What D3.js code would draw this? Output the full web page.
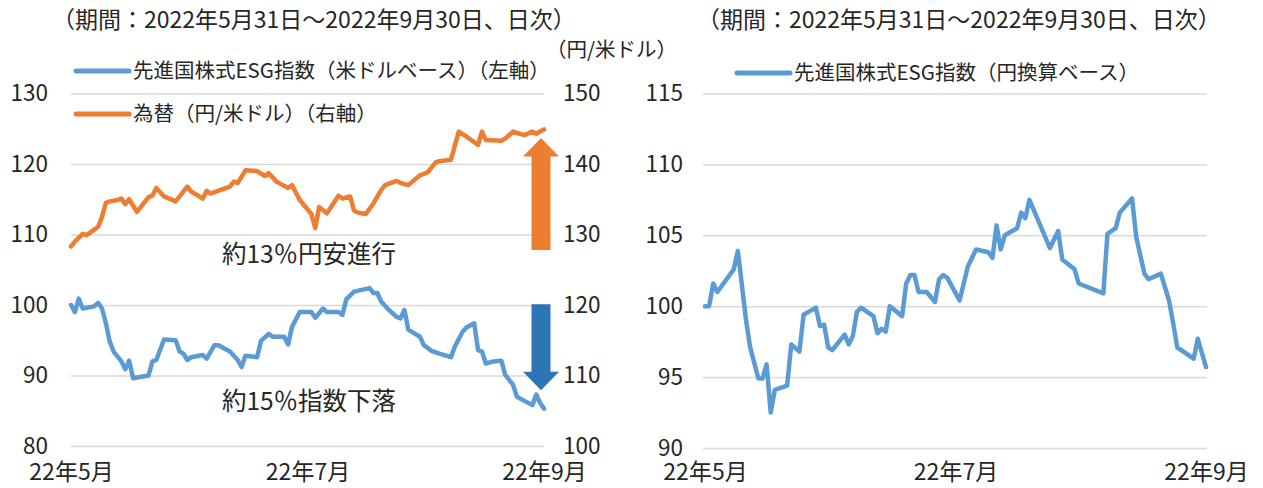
<!DOCTYPE html>
<html lang="ja">
<head>
<meta charset="utf-8">
<title>先進国株式ESG指数と為替</title>
<script src="https://cdn.jsdelivr.net/npm/d3@7"></script>
<style>
  body { margin: 0; background: #fff; }
  svg text { font-family: "Noto Sans CJK JP", "Noto Sans", sans-serif; fill: #262626; }
</style>
</head>
<body>
<script>
// days = calendar days after 2022-05-31 (vertices)
const usdDays = [0,1,2,3,6,7,8,9,10,11,13,14,15,16,20,21,22,24,27,28,29,30,31,34,35,37,38,41,43,44,45,48,49,51,52,55,56,57,59,62,63,65,66,69,70,71,73,77,78,79,80,82,84,85,86,87,90,91,93,95,98,99,101,102,104,105,106,107,109,111,112,114,115,119,120,121,122];
const usdIndex = [100.0,99.0,100.9,99.5,99.8,100.3,99.5,97.4,94.8,93.4,92.0,90.9,92.1,89.6,90.0,92.0,92.2,95.1,95.0,93.4,93.1,92.2,92.6,92.9,92.4,94.3,94.3,93.4,92.2,91.2,92.8,92.6,94.9,95.9,95.5,95.5,94.4,96.9,99.0,99.0,98.2,99.5,99.0,99.0,98.6,100.8,101.9,102.4,101.7,101.7,100.5,99.3,98.3,98.1,99.3,96.5,95.5,94.3,93.5,93.1,92.6,94.1,96.2,96.8,97.4,93.6,93.4,91.7,92.0,92.1,90.1,88.7,87.0,85.8,87.3,86.1,85.3];

const fxDays = [0,1,3,4,6,7,8,9,10,12,13,14,15,17,20,21,22,24,27,30,31,34,35,36,39,41,42,43,45,48,50,51,53,56,57,59,62,63,64,66,69,70,72,73,74,76,78,80,81,84,85,87,90,92,94,95,98,100,102,105,106,107,111,112,114,115,117,119,120,121,122];
const fxRate = [128.3,129.0,130.1,129.9,130.7,131.1,132.5,134.5,134.7,134.9,135.1,134.3,135.0,133.2,135.3,135.5,136.6,135.4,134.7,136.8,136.1,135.1,136.2,135.8,136.4,136.8,137.5,137.3,139.1,139.0,138.3,138.7,137.5,136.6,137.0,134.9,132.9,130.9,133.9,133.0,135.5,135.1,135.4,133.4,133.1,132.9,134.4,136.3,137.0,137.6,137.3,137.0,138.4,138.8,140.2,140.4,140.6,144.6,143.9,142.7,144.6,143.4,143.3,143.6,144.6,144.4,144.1,144.6,144.3,144.6,144.9];

const jpyDays = [0,1,2,3,7,8,10,11,13,14,15,16,17,20,21,23,24,27,28,29,30,31,34,35,36,37,38,41,42,43,44,45,48,49,50,51,52,54,56,57,58,59,62,63,64,66,69,70,71,72,73,76,77,78,79,84,86,87,90,91,97,98,100,101,104,105,107,108,111,113,114,115,119,120,122];
const jpyIndex = [100.0,100.0,101.6,101.0,102.6,103.9,99.0,97.1,94.9,94.9,95.9,92.5,94.1,94.4,97.3,96.8,99.4,99.9,98.6,98.7,97.1,96.9,98.0,97.3,97.9,99.6,99.9,99.3,98.1,98.4,98.2,100.0,99.3,101.6,102.2,102.2,101.0,101.0,100.3,101.9,102.2,102.0,100.4,101.6,102.8,104.0,103.8,103.4,105.7,104.0,105.0,105.5,106.6,106.2,107.5,104.1,105.3,103.3,102.6,101.6,100.9,105.1,105.5,106.6,107.6,104.9,102.3,101.9,102.3,100.4,98.8,97.1,96.3,97.7,95.7];

const xTickDays = [0, 61, 122];
const xTickLabels = ["22年5月", "22年7月", "22年9月"];
const usdTicks = [80, 90, 100, 110, 120, 130];
const fxTicks = [100, 110, 120, 130, 140, 150];
const jpyTicks = [90, 95, 100, 105, 110, 115];

const periodLabel = "（期間：2022年5月31日～2022年9月30日、日次）";
const usdName = "先進国株式ESG指数（米ドルベース）（左軸）";
const fxName = "為替（円/米ドル）（右軸）";
const jpyName = "先進国株式ESG指数（円換算ベース）";

const blue = "#5B9BD5", orange = "#ED7D31", darkBlue = "#2E75B6", grid = "#D9D9D9";

let w = 1263, h = 488;
let svg = d3.select("body").append("svg")
    .attr("width", w)
    .attr("height", h);

// ---- left panel
let xL = d3.scaleLinear().domain([0, 122]).range([71, 544]);
let yL = d3.scaleLinear().domain([80, 130]).range([446, 93.5]);
let yR = d3.scaleLinear().domain([100, 150]).range([446, 93.5]);

// ---- right panel
let xJ = d3.scaleLinear().domain([0, 122]).range([705, 1206]);
let yJ = d3.scaleLinear().domain([90, 115]).range([448, 93.5]);

function styleAxis(g, size) {
    g.select(".domain").remove();
    g.selectAll(".tick line").attr("stroke", grid).attr("stroke-width", 1.5);
    g.selectAll(".tick text").attr("font-size", size).attr("fill", "#262626");
}

svg.append("g")
    .attr("transform", "translate(71,0)")
    .call(d3.axisLeft(yL).tickValues(usdTicks).tickSize(-(544 - 71)).tickPadding(23))
    .call(g => styleAxis(g, 22.5));

svg.append("g")
    .attr("transform", "translate(544,0)")
    .call(d3.axisRight(yR).tickValues(fxTicks).tickSize(0).tickPadding(19))
    .call(g => styleAxis(g, 22.5));

svg.append("g")
    .attr("transform", "translate(0,446)")
    .call(d3.axisBottom(xL).tickValues(xTickDays).tickSize(0).tickPadding(18)
        .tickFormat((d, i) => xTickLabels[i]))
    .call(g => styleAxis(g, 23));

svg.append("g")
    .attr("transform", "translate(703,0)")
    .call(d3.axisLeft(yJ).tickValues(jpyTicks).tickSize(-(1207 - 703)).tickPadding(20))
    .call(g => styleAxis(g, 22.5));

svg.append("g")
    .attr("transform", "translate(0,448)")
    .call(d3.axisBottom(xJ).tickValues(xTickDays).tickSize(0).tickPadding(16)
        .tickFormat((d, i) => xTickLabels[i]))
    .call(g => styleAxis(g, 23));

// lines
function drawLine(days, vals, xs, ys, color) {
    let line = d3.line()
        .x((d, i) => xs(days[i]))
        .y(d => ys(d));
    svg.append("path")
        .datum(vals)
        .attr("d", line)
        .attr("fill", "none")
        .attr("stroke", color)
        .attr("stroke-width", 4.5)
        .attr("stroke-linejoin", "round")
        .attr("stroke-linecap", "round");
}
drawLine(fxDays, fxRate, xL, yR, orange);
drawLine(usdDays, usdIndex, xL, yL, blue);
drawLine(jpyDays, jpyIndex, xJ, yJ, blue);

// arrows (annotation shapes)
function arrow(cx, yFrom, yTo, color) {
    let dir = yTo < yFrom ? -1 : 1;
    let headLen = 18.5, shaft = 9.5, head = 18;
    let yBase = yTo - dir * headLen;
    let pts = [
        [cx - shaft, yFrom], [cx - shaft, yBase], [cx - head, yBase], [cx, yTo],
        [cx + head, yBase], [cx + shaft, yBase], [cx + shaft, yFrom]
    ];
    svg.append("polygon")
        .attr("points", pts.map(p => p.join(",")).join(" "))
        .attr("fill", color);
}
arrow(xL(122) - 3, yR(127.8), yR(143.7), orange);
arrow(xL(122) - 3, yL(100.1), yL(87.9), darkBlue);

// annotations
svg.append("text").attr("x", 309).attr("y", 254).attr("dy", "0.35em")
    .attr("text-anchor", "middle").attr("font-size", 24.5).text("約13％円安進行");
svg.append("text").attr("x", 309).attr("y", 401).attr("dy", "0.35em")
    .attr("text-anchor", "middle").attr("font-size", 24.5).text("約15％指数下落");

// titles
svg.append("text").attr("x", 52).attr("y", 20).attr("dy", "0.35em")
    .attr("font-size", 23).text(periodLabel);
svg.append("text").attr("x", 697).attr("y", 20).attr("dy", "0.35em")
    .attr("font-size", 23).text(periodLabel);
svg.append("text").attr("x", 546).attr("y", 50).attr("dy", "0.35em")
    .attr("font-size", 20.5).text("（円/米ドル）");

// legends
function legend(x, y, color, label) {
    svg.append("line")
        .attr("x1", x).attr("x2", x + 53).attr("y1", y).attr("y2", y)
        .attr("stroke", color).attr("stroke-width", 5).attr("stroke-linecap", "round");
    svg.append("text").attr("x", x + 57).attr("y", y).attr("dy", "0.35em")
        .attr("font-size", 20.5).text(label);
}
legend(76, 71, blue, usdName);
legend(76, 114, orange, fxName);
legend(737, 73, blue, jpyName);
</script>
</body>
</html>
